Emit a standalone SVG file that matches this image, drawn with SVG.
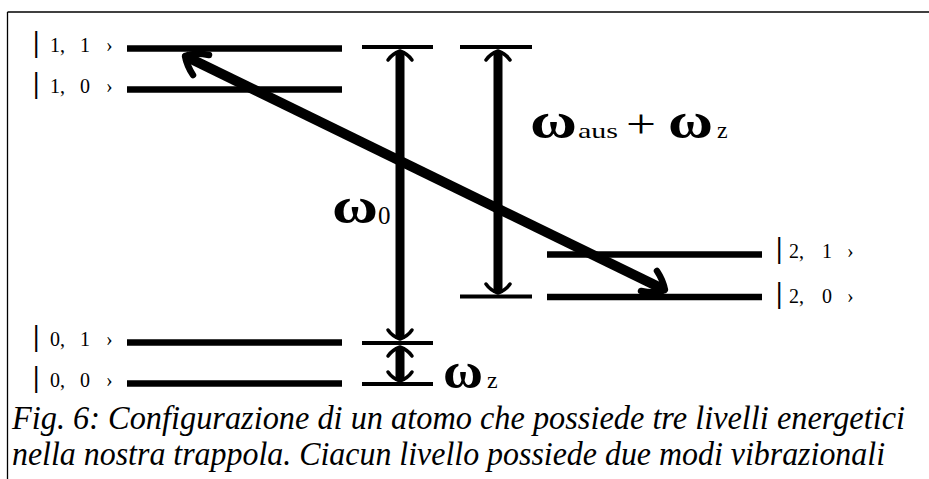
<svg xmlns="http://www.w3.org/2000/svg" width="929" height="479" viewBox="0 0 929 479">
<rect width="929" height="479" fill="#fff"/>
<g id="frame" stroke="#000" stroke-width="1.3">
<line x1="7.5" y1="12" x2="929" y2="12"/>
<line x1="7.5" y1="12" x2="7.5" y2="479"/>
</g>
<g id="level-1-1">
<text x="33" y="52" font-family="Liberation Serif" font-size="29" font-weight="bold">|</text>
<text x="50" y="52" font-family="Liberation Serif" font-size="20">1,</text>
<text x="80" y="52" font-family="Liberation Serif" font-size="20">1</text>
<text x="106" y="52" font-family="Liberation Serif" font-size="20">›</text>
<line x1="127" y1="48.5" x2="342" y2="48.5" stroke="#000" stroke-width="6.5"/>
</g>
<g id="level-1-0">
<text x="33" y="93" font-family="Liberation Serif" font-size="29" font-weight="bold">|</text>
<text x="50" y="93" font-family="Liberation Serif" font-size="20">1,</text>
<text x="80" y="93" font-family="Liberation Serif" font-size="20">0</text>
<text x="106" y="93" font-family="Liberation Serif" font-size="20">›</text>
<line x1="127" y1="89.5" x2="342" y2="89.5" stroke="#000" stroke-width="6.5"/>
</g>
<g id="level-0-1">
<text x="33" y="346" font-family="Liberation Serif" font-size="29" font-weight="bold">|</text>
<text x="50" y="346" font-family="Liberation Serif" font-size="20">0,</text>
<text x="80" y="346" font-family="Liberation Serif" font-size="20">1</text>
<text x="106" y="346" font-family="Liberation Serif" font-size="20">›</text>
<line x1="127" y1="342.5" x2="342" y2="342.5" stroke="#000" stroke-width="6.5"/>
</g>
<g id="level-0-0">
<text x="33" y="387" font-family="Liberation Serif" font-size="29" font-weight="bold">|</text>
<text x="50" y="387" font-family="Liberation Serif" font-size="20">0,</text>
<text x="80" y="387" font-family="Liberation Serif" font-size="20">0</text>
<text x="106" y="387" font-family="Liberation Serif" font-size="20">›</text>
<line x1="127" y1="383.5" x2="342" y2="383.5" stroke="#000" stroke-width="6.5"/>
</g>
<g id="level-2-1">
<text x="776" y="258" font-family="Liberation Serif" font-size="29" font-weight="bold">|</text>
<text x="789" y="258" font-family="Liberation Serif" font-size="20">2,</text>
<text x="822" y="258" font-family="Liberation Serif" font-size="20">1</text>
<text x="847" y="258" font-family="Liberation Serif" font-size="20">›</text>
<line x1="547" y1="254.5" x2="762" y2="254.5" stroke="#000" stroke-width="6.5"/>
</g>
<g id="level-2-0">
<text x="776" y="303" font-family="Liberation Serif" font-size="29" font-weight="bold">|</text>
<text x="789" y="303" font-family="Liberation Serif" font-size="20">2,</text>
<text x="822" y="303" font-family="Liberation Serif" font-size="20">0</text>
<text x="847" y="303" font-family="Liberation Serif" font-size="20">›</text>
<line x1="547" y1="297" x2="762" y2="297" stroke="#000" stroke-width="6.5"/>
</g>
<g id="ticks" stroke="#000" stroke-width="4">
<line x1="362" y1="47" x2="433" y2="47"/>
<line x1="460" y1="47" x2="532" y2="47"/>
<line x1="460" y1="296.5" x2="532" y2="296.5"/>
<line x1="362" y1="343" x2="433" y2="343"/>
<line x1="362" y1="384" x2="433" y2="384"/>
</g>
<g id="connectors" stroke="#000" fill="none">
<line x1="400" y1="51" x2="400" y2="339" stroke-width="9"/>
<line x1="400" y1="347" x2="400" y2="381" stroke-width="9"/>
<line x1="498" y1="51" x2="498" y2="293" stroke-width="9"/>
<line x1="185" y1="56" x2="665" y2="290" stroke-width="10"/>
<g stroke-width="3.5" stroke-linecap="round">
<path d="M388,60 Q392,54 400,51 Q408,54 412,60"/>
<path d="M388,330 Q392,336 400,339 Q408,336 412,330"/>
<path d="M388,356 Q392,350 400,347 Q408,350 412,356"/>
<path d="M388,372 Q392,378 400,381 Q408,378 412,372"/>
<path d="M486,60 Q490,54 498,51 Q506,54 510,60"/>
<path d="M486,284 Q490,290 498,293 Q506,290 510,284"/>
</g>
<g stroke-width="6.5" stroke-linecap="round" stroke-linejoin="round">
<path d="M209,55 Q194,52 185,56 Q187,66 193,75"/>
<path d="M641,291 Q656,294 665,290 Q663,280 657,271"/>
</g>
</g>
<g id="labels">
<text x="332" y="223" font-family="Liberation Serif" font-size="50" font-weight="bold" textLength="46" lengthAdjust="spacingAndGlyphs">ω</text>
<text x="378" y="224" font-family="Liberation Serif" font-size="25">0</text>
<text x="530" y="138" font-family="Liberation Serif" font-size="50" font-weight="bold" textLength="47" lengthAdjust="spacingAndGlyphs">ω</text>
<text x="578" y="138" font-family="Liberation Serif" font-size="22" textLength="40" lengthAdjust="spacingAndGlyphs">aus</text>
<text x="626" y="137" font-family="Liberation Serif" font-size="40" textLength="30" lengthAdjust="spacingAndGlyphs">+</text>
<text x="668" y="138" font-family="Liberation Serif" font-size="50" font-weight="bold" textLength="45" lengthAdjust="spacingAndGlyphs">ω</text>
<text x="717" y="138" font-family="Liberation Serif" font-size="24">z</text>
<text x="443" y="388" font-family="Liberation Serif" font-size="50" font-weight="bold" textLength="40" lengthAdjust="spacingAndGlyphs">ω</text>
<text x="487" y="388" font-family="Liberation Serif" font-size="24">z</text>
</g>
<g id="caption">
<text x="12" y="429" font-family="Liberation Serif" font-style="italic" font-size="33" textLength="893" lengthAdjust="spacingAndGlyphs">Fig. 6: Configurazione di un atomo che possiede tre livelli energetici</text>
<text x="12" y="465" font-family="Liberation Serif" font-style="italic" font-size="33" textLength="873" lengthAdjust="spacingAndGlyphs">nella nostra trappola. Ciacun livello possiede due modi vibrazionali</text>
</g>
</svg>
